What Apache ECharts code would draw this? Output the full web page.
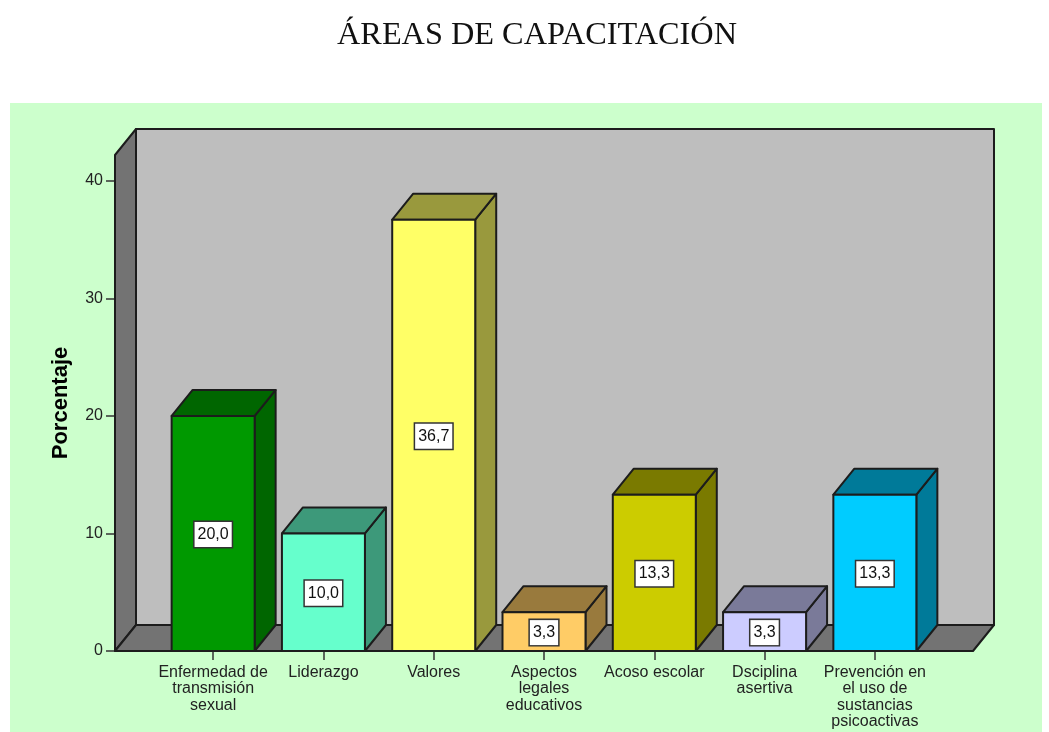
<!DOCTYPE html>
<html>
<head>
<meta charset="utf-8">
<style>
  html, body { margin: 0; padding: 0; background: #fff; }
  #main { width: 1049px; height: 732px; }
</style>
</head>
<body>
<div id="main"></div>
<script src="https://cdn.jsdelivr.net/npm/echarts@6/dist/echarts.min.js"></script>
<script>
const categories = [
  'Enfermedad de\ntransmisión\nsexual',
  'Liderazgo',
  'Valores',
  'Aspectos\nlegales\neducativos',
  'Acoso escolar',
  'Dsciplina\nasertiva',
  'Prevención en\nel uso de\nsustancias\npsicoactivas'
];
const porcentajes = [20.0, 10.0, 36.7, 3.3, 13.3, 3.3, 13.3];
const etiquetas = ['20,0', '10,0', '36,7', '3,3', '13,3', '3,3', '13,3'];
const yTicks = [0, 10, 20, 30, 40];
const wallTop = 42.2;

const frontColors = ['#009900', '#66FFCC', '#FFFF66', '#FFCC66', '#CCCC00', '#CCCCFF', '#00CCFF'];
const sideColors = ['#006600', '#3D997A', '#99993D', '#997A3D', '#7A7A00', '#7A7A99', '#007A99'];

const DX = 21, DY = -26;   // profundidad 3D
const BAR_W = 83;
const SIDE_PAD = 43;       // del borde del grid al borde del suelo
const LINE = '#1c1c1c';

function poly(points, fill) {
  return {
    type: 'polygon',
    shape: { points: points },
    style: { fill: fill, stroke: LINE, lineWidth: 2, lineJoin: 'round' }
  };
}

// paredes y suelo
function renderWalls(params, api) {
  const band = api.size([1, 0])[0];
  const x0 = api.coord([0, 0])[0] - band / 2 - SIDE_PAD;
  const x1 = api.coord([categories.length - 1, 0])[0] + band / 2 + SIDE_PAD;
  const y0 = api.coord([0, 0])[1];
  const yT = api.coord([0, api.value(1)])[1];
  return {
    type: 'group',
    children: [
      poly([[x0 + DX, yT + DY], [x1 + DX, yT + DY], [x1 + DX, y0 + DY], [x0 + DX, y0 + DY]], '#BEBEBE'),
      poly([[x0, yT], [x0 + DX, yT + DY], [x0 + DX, y0 + DY], [x0, y0]], '#737373'),
      poly([[x0, y0], [x0 + DX, y0 + DY], [x1 + DX, y0 + DY], [x1, y0]], '#737373')
    ]
  };
}

function renderBar(params, api) {
  const i = api.value(0);
  const top = api.coord([i, api.value(1)]);
  const base = api.coord([i, 0]);
  const mid = api.coord([i, api.value(1) / 2]);
  const l = top[0] - BAR_W / 2, r = top[0] + BAR_W / 2;
  return {
    type: 'group',
    children: [
      poly([[r, base[1]], [r + DX, base[1] + DY], [r + DX, top[1] + DY], [r, top[1]]], sideColors[i]),
      poly([[l, top[1]], [l + DX, top[1] + DY], [r + DX, top[1] + DY], [r, top[1]]], sideColors[i]),
      poly([[l, top[1]], [r, top[1]], [r, base[1]], [l, base[1]]], frontColors[i]),
      {
        type: 'text',
        x: mid[0],
        y: mid[1] + 1,
        z2: 10,
        style: {
          text: etiquetas[i],
          font: '16px "Liberation Sans"',
          fill: '#111',
          align: 'center',
          verticalAlign: 'middle',
          backgroundColor: '#fff',
          borderColor: '#333',
          borderWidth: 1.5,
          padding: [5, 3, 4, 3]
        }
      }
    ]
  };
}

const myChart = echarts.init(document.getElementById('main'), null, { renderer: 'canvas' });

const option = {
  backgroundColor: '#fff',
  animation: false,
  title: {
    text: 'ÁREAS DE CAPACITACIÓN',
    left: 532,
    top: 15,
    textAlign: 'center',
    textStyle: { fontFamily: '"Liberation Serif"', fontSize: 32.3, fontWeight: 'normal', color: '#111' }
  },
  graphic: [{
    type: 'rect',
    silent: true,
    z: -10,
    shape: { x: 10, y: 103, width: 1032, height: 629 },
    style: { fill: '#CCFFCC' }
  }],
  grid: { left: 158, top: 155, width: 772, height: 496 },
  xAxis: {
    type: 'category',
    data: categories,
    axisLine: { show: false },
    axisTick: { show: true, alignWithLabel: true, length: 9, lineStyle: { color: '#333', width: 1.5 } },
    axisLabel: {
      interval: 0,
      margin: 13,
      fontFamily: '"Liberation Sans"',
      fontSize: 16,
      lineHeight: 16.5,
      color: '#222'
    }
  },
  yAxis: {
    type: 'value',
    min: 0,
    max: wallTop,
    offset: SIDE_PAD,
    name: 'Porcentaje',
    nameLocation: 'middle',
    nameGap: 43,
    nameTextStyle: { fontFamily: '"Liberation Sans"', fontSize: 22, fontWeight: 'bold', color: '#000' },
    splitLine: { show: false },
    axisLine: { show: false },
    axisTick: { show: true, length: 9, customValues: yTicks, lineStyle: { color: '#333', width: 1.5 } },
    axisLabel: { margin: 12, padding: [2, 0, 0, 0], customValues: yTicks, fontFamily: '"Liberation Sans"', fontSize: 16, color: '#222' }
  },
  series: [
    {
      type: 'custom',
      name: 'fondo',
      silent: true,
      clip: false,
      z: 1,
      encode: { x: 0, y: 1 },
      data: [[0, wallTop]],
      renderItem: renderWalls
    },
    {
      type: 'custom',
      name: 'Porcentaje',
      clip: false,
      z: 2,
      encode: { x: 0, y: 1 },
      data: porcentajes.map((v, i) => [i, v]),
      renderItem: renderBar
    }
  ]
};

myChart.setOption(option);
</script>
</body>
</html>
